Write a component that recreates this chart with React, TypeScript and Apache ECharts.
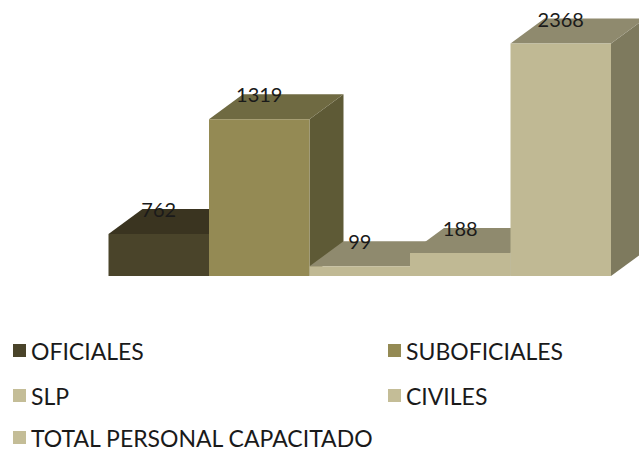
import React, { useEffect, useRef } from "react";
import * as echarts from "echarts";

const categories = ["OFICIALES", "SUBOFICIALES", "SLP", "CIVILES", "TOTAL PERSONAL CAPACITADO"];
// Values printed above each column
const printedValues = [762, 1319, 99, 188, 2368];
// Column heights as drawn in the picture (on the same axis as 2368), which differ from the printed values
const drawnHeights = [427, 1597, 99, 234, 2368];
const frontColors = ["#4a442a", "#948a54", "#c0b994", "#c0b994", "#c0b994"];
const topColors = ["#3a3420", "#6f6a42", "#8f8a6e", "#8f8a6e", "#8f8a6e"];
const sideColors = ["#2f2a1a", "#5e5a36", "#7e7a5e", "#7e7a5e", "#7e7a5e"];
const legendColors = ["#4a442a", "#948a54", "#c4bd97", "#c4bd97", "#c4bd97"];
const legendPositions = [
  [8, 334],
  [383, 334],
  [8, 379],
  [383, 379],
  [8, 421],
];

const DEPTH_X = 34;
const DEPTH_Y = 25;
const FONT = "Lato";

export default function App() {
  const ref = useRef<HTMLDivElement>(null);
  useEffect(() => {
    document.body.style.margin = "0";
    const chart = echarts.init(ref.current!, null, { renderer: "svg" });
    const renderBar = (idx: number) => (_: any, api: any) => {
      const cat = api.value(0);
      const [cx, yTop] = api.coord([cat, api.value(1)]);
      const [, yBase] = api.coord([cat, 0]);
      const w = api.size([1, 0])[0];
      const l = cx - w / 2;
      const r = cx + w / 2;
      const dx = DEPTH_X;
      const dy = DEPTH_Y;
      return {
        type: "group",
        children: [
          {
            type: "polygon",
            shape: { points: [[r, yTop], [r + dx, yTop - dy], [r + dx, yBase - dy], [r, yBase]] },
            style: { fill: sideColors[idx] },
          },
          {
            type: "polygon",
            shape: { points: [[l, yTop], [l + dx, yTop - dy], [r + dx, yTop - dy], [r, yTop]] },
            style: { fill: topColors[idx] },
          },
          {
            type: "rect",
            shape: { x: l, y: yTop, width: w, height: yBase - yTop },
            style: { fill: frontColors[idx] },
          },
          {
            type: "text",
            z2: 100,
            style: {
              x: cx,
              y: yTop - dy,
              text: String(printedValues[idx]),
              fill: "#1a1a1a",
              font: `20px ${FONT}`,
              align: "center",
              verticalAlign: "middle",
            },
          },
        ],
      };
    };
    chart.setOption({
      animation: false,
      grid: { left: 108.5, right: 28, top: 43.5, bottom: 175 },
      xAxis: { type: "category", data: categories, show: false },
      yAxis: { type: "value", min: 0, max: 2368, show: false },
      legend: categories.map((name, i) => ({
        data: [name],
        left: legendPositions[i][0],
        top: legendPositions[i][1],
        itemWidth: 13,
        itemHeight: 13,
        icon: "rect",
        selectedMode: false,
        textStyle: { fontFamily: FONT, fontSize: 23, lineHeight: 20, color: "#1a1a1a" },
      })),
      series: categories.map((name, i) => ({
        name,
        type: "custom",
        clip: false,
        itemStyle: { color: legendColors[i] },
        renderItem: renderBar(i),
        encode: { x: 0, y: 1 },
        z: 2 + i,
        data: [[i, drawnHeights[i]]],
      })),
    });
    return () => chart.dispose();
  }, []);
  return <div ref={ref} style={{ width: 639, height: 451, background: "#fff" }} />;
}
